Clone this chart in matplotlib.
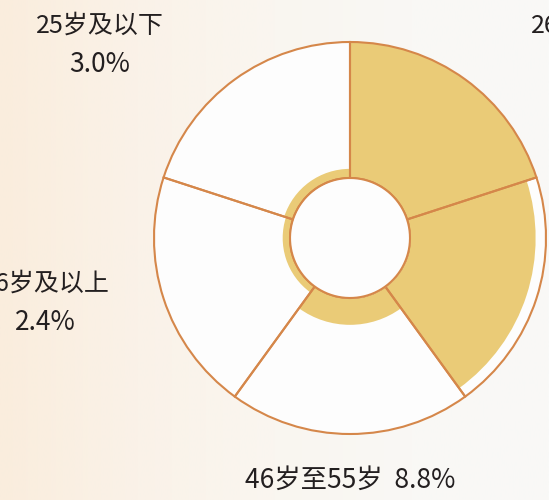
import matplotlib
matplotlib.use('Agg')
import matplotlib.pyplot as plt
import numpy as np
from matplotlib.colors import LinearSegmentedColormap

plt.rcParams['font.family'] = ['Noto Sans CJK SC', 'DejaVu Sans']

# datos (orden horario desde arriba-izquierda)
categories = ['25岁及以下', '26岁至35岁', '36岁至45岁', '46岁至55岁', '56岁及以上']
values = [3.0, 44.6, 41.2, 8.8, 2.4]
pct_text = ['3.0%', '44.6%', '41.2%', '8.8%', '2.4%']

# posiciones de las etiquetas en pixeles (x, y desde arriba); None = fuera del recorte
label_pos = [(100, 26), (596, 26), None, (350, 480), (45, 284)]

W, H = 549, 500
cx, cy, R = 350, 238, 196     # centro y radio del anillo en pixeles
hole_px = 60
pad = 1.03                    # margen para que el borde exterior no se recorte

gold = '#EACB77'
line = '#D5874A'
ink = '#231F20'

fig = plt.figure(figsize=(W / 100, H / 100), dpi=100)

# fondo con degradado beige -> blanco
bg = fig.add_axes([0, 0, 1, 1])
cmap = LinearSegmentedColormap.from_list('bg', ['#FAEDDD', '#FAF2E8', '#FAF6F0', '#F9F8F5', '#F9F9F7'])
grad = np.linspace(0, 1, 256).reshape(1, -1)
bg.imshow(grad, cmap=cmap, aspect='auto', extent=[0, 1, 0, 1])
bg.axis('off')

Ra = R * pad
ax = fig.add_axes([(cx - Ra) / W, (H - cy - Ra) / H, 2 * Ra / W, 2 * Ra / H], projection='polar')
ax.set_theta_zero_location('N')
ax.set_theta_direction(-1)

n = len(values)
width = 2 * np.pi / n
theta = np.array([(i - 0.5) * width for i in range(n)])
vmax = max(values)
hole = vmax * hole_px / (R - hole_px)
rmax = hole + vmax
ax.set_ylim(0, rmax * pad)

# sectores blancos
ax.bar(theta, [rmax - hole] * n, width=width, bottom=hole, color='#FDFDFD', linewidth=0, zorder=1)
# valores
ax.bar(theta, values, width=width, bottom=hole, color=gold, linewidth=0, zorder=2)
# contornos
ax.bar(theta, [rmax - hole] * n, width=width, bottom=hole, fill=False,
       edgecolor=line, linewidth=1.5, zorder=3)
# hueco central
t = np.linspace(0, 2 * np.pi, 300)
ax.fill_between(t, 0, hole, color='#FDFDFD', zorder=4, linewidth=0)
ax.plot(t, [hole] * len(t), color=line, linewidth=1.5, zorder=5)

ax.set_xticks([])
ax.set_yticks([])
ax.spines['polar'].set_visible(False)
ax.grid(False)
ax.patch.set_alpha(0)

for i, pos in enumerate(label_pos):
    if pos is None:
        continue
    px, py = pos
    if i == 3:
        fig.text(px / W, 1 - py / H, categories[i] + '  ' + pct_text[i], ha='center', va='center',
                 fontsize=19, fontweight='medium', color=ink)
    else:
        fig.text(px / W, 1 - py / H, categories[i], ha='center', va='center',
                 fontsize=18, fontweight='medium', color=ink)
        fig.text(px / W, 1 - (py + 38) / H, pct_text[i], ha='center', va='center',
                 fontsize=19, fontweight='medium', color=ink)

plt.savefig('out.png', dpi=100)
